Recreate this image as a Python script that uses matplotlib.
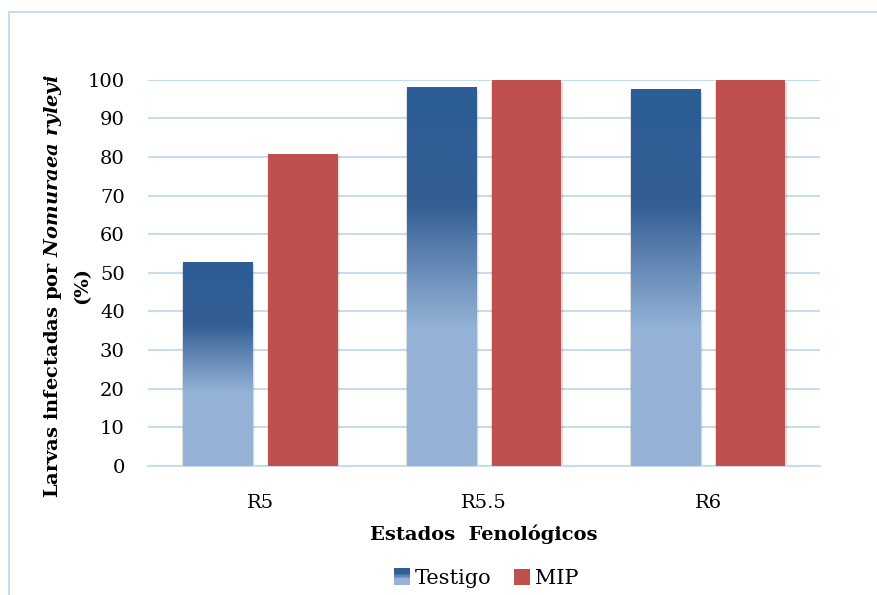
import numpy as np
import matplotlib
matplotlib.use("Agg")
import matplotlib.pyplot as plt
from matplotlib.colors import LinearSegmentedColormap
from matplotlib.patches import Rectangle
from matplotlib.legend_handler import HandlerBase
from matplotlib.lines import Line2D

# data
categories = ["R5", "R5.5", "R6"]
testigo = [52.7, 98.0, 97.5]
mip = [80.8, 100.0, 100.0]
series_names = ["Testigo", "MIP"]
yticks = [0, 10, 20, 30, 40, 50, 60, 70, 80, 90, 100]

dark_blue = "#2c5d96"
light_blue = "#95b3d7"
red = "#c0504d"
grid_col = "#c9dbef"

plt.rcParams["font.family"] = ["DejaVu Serif"]
plt.rcParams["mathtext.fontset"] = "custom"
plt.rcParams["mathtext.bf"] = "DejaVu Serif:bold"
plt.rcParams["mathtext.it"] = "DejaVu Serif:italic:bold"
plt.rcParams["mathtext.rm"] = "DejaVu Serif:bold"

# gradient used by the Testigo bars (bottom light -> top dark)
blue_cmap = LinearSegmentedColormap.from_list(
    "testigo", [(0.0, light_blue), (0.36, light_blue), (0.55, "#5f84b2"),
                (0.69, "#345f94"), (1.0, dark_blue)])

fig = plt.figure(figsize=(8.78, 5.95), dpi=100)
ax = fig.add_axes([0.169, 0.217, 0.765, 0.649])

x = np.arange(len(categories))
width = 0.31
off = 0.19

grad = np.linspace(0, 1, 256).reshape(-1, 1)

# soft shadow behind bars
for xs, vals in ((x - off, testigo), (x + off, mip)):
    for xi, v in zip(xs, vals):
        for k, a in ((0.016, 0.05), (0.009, 0.08)):
            ax.add_patch(Rectangle((xi - width / 2 - k * 0.3, -0.8), width + k, v + 0.2,
                                   facecolor="#000000", alpha=a, lw=0, zorder=2))

bars_t = ax.bar(x - off, testigo, width, color="none", lw=0, zorder=3)
for b, v in zip(bars_t, testigo):
    im = ax.imshow(grad, cmap=blue_cmap, origin="lower", aspect="auto",
                   extent=(b.get_x(), b.get_x() + b.get_width(), 0, v),
                   zorder=3, interpolation="bilinear")
    im.set_clip_path(b)
ax.bar(x + off, mip, width, color=red, lw=0, zorder=3)

ax.set_xlim(-0.5, len(categories) - 0.5)
ax.set_ylim(0, 100)
ax.set_yticks(yticks)
ax.set_xticks(x)
ax.set_xticklabels(categories)
ax.yaxis.grid(True, color=grid_col, lw=1.5, zorder=0)
ax.set_axisbelow(True)
for s in ("top", "right", "left"):
    ax.spines[s].set_visible(False)
ax.spines["bottom"].set_color(grid_col)
ax.spines["bottom"].set_linewidth(1.5)
ax.tick_params(axis="both", length=0, labelsize=14, colors="black")
ax.tick_params(axis="y", pad=17)
ax.tick_params(axis="x", pad=20)

ax.set_xlabel("Estados  Fenológicos", fontsize=14, fontweight="bold", labelpad=9)
# y title: first line as the axis label, "(%)" as its own centred line
ax.set_ylabel("Larvas infectadas por $\\mathit{Nomuraea\\ ryleyi}$",
              fontsize=14, fontweight="bold")
ax.yaxis.set_label_coords(-0.126, 0.466)
ax.text(-0.098, 0.466, "(%)", transform=ax.transAxes, rotation=90,
        ha="center", va="center", fontsize=14, fontweight="bold")


class GradientHandler(HandlerBase):
    def create_artists(self, legend, orig_handle, xdescent, ydescent,
                       width, height, fontsize, trans):
        h = height * 1.1
        w = h
        x0 = xdescent * -1 + (width - w)
        y0 = -ydescent - 0.05 * height
        n = 12
        arts = []
        for i in range(n):
            c = blue_cmap((i + 0.5) / n)
            arts.append(Rectangle((x0, y0 + i * h / n), w, h / n + 0.2,
                                  facecolor=c, lw=0, transform=trans))
        return arts


class SquareHandler(HandlerBase):
    def create_artists(self, legend, orig_handle, xdescent, ydescent,
                       width, height, fontsize, trans):
        h = height * 1.1
        w = h
        x0 = xdescent * -1 + (width - w)
        y0 = -ydescent - 0.05 * height
        return [Rectangle((x0, y0), w, h, facecolor=red, lw=0, transform=trans)]


h1 = Rectangle((0, 0), 1, 1)
h2 = Rectangle((0, 0), 1, 1, facecolor=red)
fig.legend([h1, h2], series_names, loc="center", bbox_to_anchor=(0.553, 0.028),
           ncol=2, frameon=False, fontsize=15, handlelength=0.85,
           handletextpad=0.25, columnspacing=1.0,
           handler_map={h1: GradientHandler(), h2: SquareHandler()})

# light frame of the chart area
fig.add_artist(Line2D([0.0105, 0.0105], [0.0, 0.98], color=grid_col, lw=1.5,
                      transform=fig.transFigure))
fig.add_artist(Line2D([0.0105, 1.0], [0.98, 0.98], color=grid_col, lw=1.5,
                      transform=fig.transFigure))

fig.savefig("out.png", dpi=100)
